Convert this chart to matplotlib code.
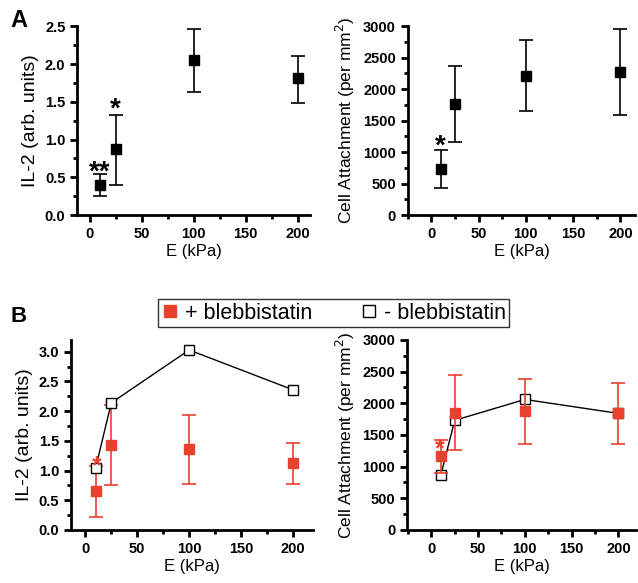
import numpy as np
import matplotlib.pyplot as plt
from matplotlib.ticker import MultipleLocator
from matplotlib.lines import Line2D

plt.rcParams['font.family'] = ['Liberation Sans', 'DejaVu Sans']

# panel A data
E = [10, 25, 100, 200]
il2_a = [0.40, 0.87, 2.05, 1.81]
il2_a_lo = [0.25, 0.40, 1.63, 1.49]
il2_a_hi = [0.55, 1.33, 2.47, 2.11]
att_a = [730, 1760, 2210, 2270]
att_a_lo = [430, 1160, 1650, 1590]
att_a_hi = [1040, 2370, 2775, 2950]

# panel B data
il2_plus = [0.65, 1.43, 1.36, 1.12]
il2_plus_lo = [0.22, 0.75, 0.78, 0.78]
il2_plus_hi = [1.08, 2.10, 1.94, 1.47]
il2_minus = [1.05, 2.14, 3.03, 2.36]
att_plus = [1160, 1850, 1870, 1840]
att_plus_lo = [900, 1260, 1350, 1360]
att_plus_hi = [1420, 2440, 2390, 2320]
att_minus = [860, 1730, 2060, 1840]

red = '#e8412e'


def style(ax, ylim, major, minor, xlim):
    ax.set_xlim(*xlim)
    ax.set_ylim(*ylim)
    for s in ['top', 'right']:
        ax.spines[s].set_visible(False)
    for s in ['left', 'bottom']:
        ax.spines[s].set_linewidth(2)
    ax.xaxis.set_major_locator(MultipleLocator(50))
    ax.xaxis.set_minor_locator(MultipleLocator(25))
    ax.yaxis.set_major_locator(MultipleLocator(major))
    ax.yaxis.set_minor_locator(MultipleLocator(minor))
    ax.tick_params(which='major', direction='out', length=5, width=2, labelsize=10.5)
    ax.tick_params(which='minor', direction='out', length=3, width=2)
    for lab in ax.get_xticklabels() + ax.get_yticklabels():
        lab.set_fontweight('bold')
    ax.set_xlabel('E (kPa)', fontsize=12, labelpad=2)


def errs(y, lo, hi):
    y = np.array(y)
    return [y - np.array(lo), np.array(hi) - y]


fig = plt.figure(figsize=(6.38, 5.83), dpi=100)

ax1 = fig.add_axes([0.121, 0.631, 0.365, 0.324])
ax1.errorbar(E, il2_a, yerr=errs(il2_a, il2_a_lo, il2_a_hi), fmt='s', color='black',
             ms=7.5, capsize=5, elinewidth=1.2, capthick=1.2)
ax1.text(10, 0.47, '**', ha='center', va='baseline', fontsize=20, fontweight='bold')
ax1.text(25, 1.30, '*', ha='center', va='baseline', fontsize=20, fontweight='bold')
style(ax1, (0, 2.5), 0.5, 0.25, (-12, 212))
ax1.set_yticks([0, 0.5, 1.0, 1.5, 2.0, 2.5])
ax1.set_yticklabels(['0.0', '0.5', '1.0', '1.5', '2.0', '2.5'], fontweight='bold')
ax1.set_ylabel('IL-2 (arb. units)', fontsize=14)

ax2 = fig.add_axes([0.639, 0.631, 0.357, 0.324])
ax2.errorbar(E, att_a, yerr=errs(att_a, att_a_lo, att_a_hi), fmt='s', color='black',
             ms=7.5, capsize=5, elinewidth=1.2, capthick=1.2)
ax2.text(10, 980, '*', ha='center', va='baseline', fontsize=20, fontweight='bold')
style(ax2, (0, 3000), 500, 250, (-25, 216))
ax2.set_ylabel('Cell Attachment (per mm$^2$)', fontsize=12.5)

ax3 = fig.add_axes([0.111, 0.091, 0.379, 0.326])
ax3.errorbar(E, il2_plus, yerr=errs(il2_plus, il2_plus_lo, il2_plus_hi), fmt='s', color=red,
             ms=7.5, capsize=5, elinewidth=1.2, capthick=1.2, zorder=2)
ax3.plot(E, il2_minus, '-s', color='black', mfc='white', ms=7, lw=1, zorder=3)
ax3.text(11, 0.95, '*', ha='center', va='baseline', fontsize=18, fontweight='bold', color=red)
style(ax3, (0, 3.2), 0.5, 0.25, (-14, 219))
ax3.set_yticks([0, 0.5, 1.0, 1.5, 2.0, 2.5, 3.0])
ax3.set_yticklabels(['0.0', '0.5', '1.0', '1.5', '2.0', '2.5', '3.0'], fontweight='bold')
ax3.set_ylabel('IL-2 (arb. units)', fontsize=14)

ax4 = fig.add_axes([0.638, 0.091, 0.359, 0.326])
ax4.errorbar(E, att_plus, yerr=errs(att_plus, att_plus_lo, att_plus_hi), fmt='s', color=red,
             ms=7.5, capsize=5, elinewidth=1.2, capthick=1.2, zorder=3)
ax4.plot(E, att_minus, '-s', color='black', mfc='white', ms=7, lw=1, zorder=2)
ax4.text(9.5, 1170, '*', ha='center', va='baseline', fontsize=18, fontweight='bold', color=red)
style(ax4, (0, 3000), 500, 250, (-26, 219))
ax4.set_ylabel('Cell Attachment (per mm$^2$)', fontsize=12.5)

fig.text(0.016, 0.985, 'A', fontsize=17, fontweight='bold', va='top')
fig.text(0.016, 0.475, 'B', fontsize=16, fontweight='bold', va='top')

handles = [Line2D([], [], ls='none', marker='s', color=red, ms=8),
           Line2D([], [], ls='none', marker='s', color='black', mfc='white', ms=8)]
leg = fig.legend(handles, ['+ blebbistatin', '- blebbistatin'], loc='center',
                 bbox_to_anchor=(0.523, 0.463), ncol=2, fontsize=15.5, frameon=True,
                 fancybox=False, edgecolor='black', handlelength=0.8, handletextpad=0.3,
                 columnspacing=2.2, borderpad=0.15)
leg.get_frame().set_linewidth(1)

fig.savefig('out.png', dpi=100)
